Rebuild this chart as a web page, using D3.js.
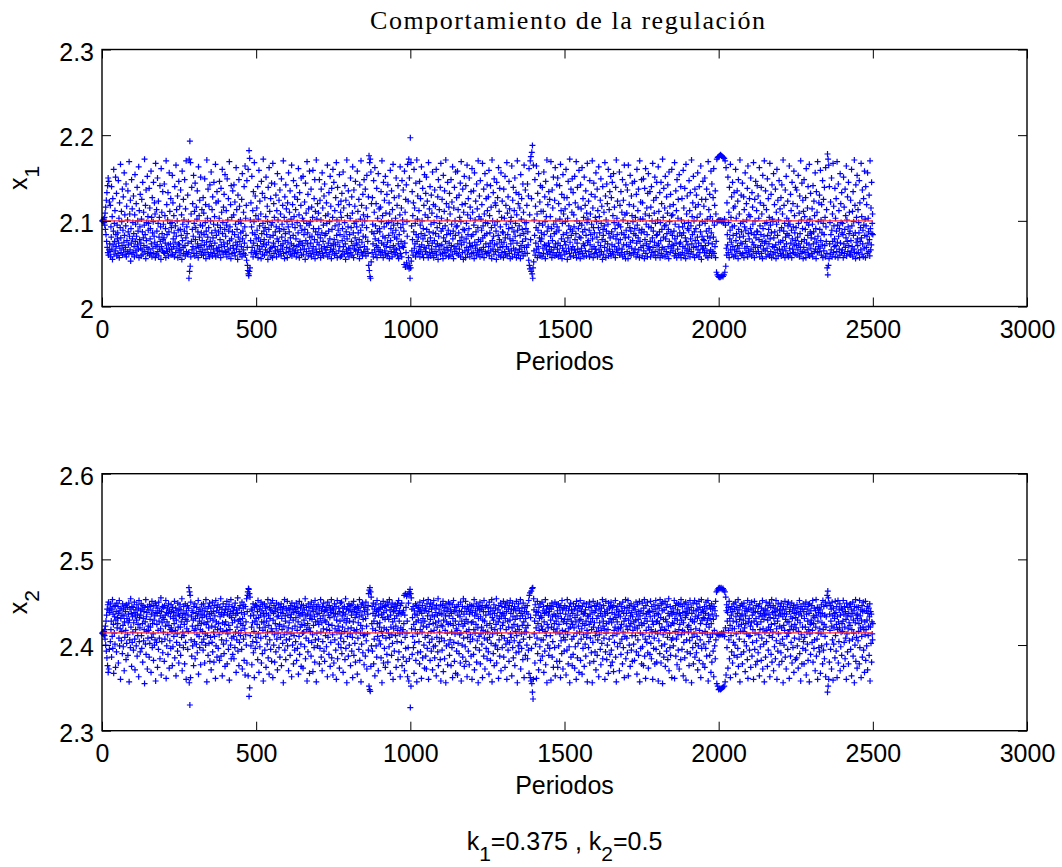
<!DOCTYPE html>
<html lang="es">
<head>
<meta charset="utf-8">
<title>Comportamiento de la regulación</title>
<script src="https://cdn.jsdelivr.net/npm/d3@7"></script>
<style>
  body { margin: 0; background: #fff; }
  svg { display: block; }
</style>
</head>
<body>
<div id="grafico"></div>
<script>
// Datos, un valor por periodo (1..2500), en milesimas:
// x1 = 2 + v/1000 , x2 = 2.3 + v/1000
const x1Mil = [
100,100,101,99,100,102,98,104,95,109,90,116,84,124,76,133,69,141,63,150,60,146,66,122,73,
64,118,58,93,81,140,67,105,55,126,72,88,160,61,97,76,112,65,151,84,70,132,59,95,79,
86,62,147,74,103,57,121,68,92,166,80,63,111,99,71,137,60,89,128,66,75,156,83,107,61,
69,94,143,58,117,77,64,101,135,87,72,62,169,82,108,66,124,53,91,74,148,61,114,79,98,
63,129,85,70,58,107,154,76,96,65,120,82,60,139,72,100,88,67,163,57,112,78,93,131,68,
74,59,102,125,66,87,145,61,80,110,71,95,172,64,84,118,56,136,77,98,69,152,62,105,89,
97,67,138,60,115,79,91,63,158,73,104,58,127,86,68,99,145,62,82,121,75,108,57,167,70,
61,113,88,72,150,64,97,123,59,81,104,67,141,76,93,55,161,70,110,85,65,134,78,96,63,
80,143,62,106,74,91,57,170,68,119,84,64,101,133,72,59,87,156,66,111,97,73,126,60,92,
67,98,153,61,121,79,70,106,86,58,140,75,94,63,165,82,113,68,100,129,57,89,73,146,65,
72,117,60,90,136,66,83,107,55,158,77,96,69,125,62,101,88,148,71,59,114,80,170,64,93,
85,61,130,74,99,63,33,172,41,193,47,168,58,108,76,139,66,90,120,70,82,153,62,97,111,
59,144,78,92,68,116,62,102,135,73,87,57,163,69,106,81,124,64,95,151,71,86,60,113,77,
94,66,127,60,109,84,72,149,63,98,119,56,88,75,171,67,103,81,137,61,92,117,70,58,142,
76,100,63,157,71,86,113,59,128,80,67,96,145,62,105,74,89,166,58,121,83,68,134,65,95,
60,123,87,69,103,146,64,78,92,57,138,72,110,65,160,85,98,61,116,75,131,70,90,154,63,
82,64,112,95,58,149,73,101,66,126,88,61,169,77,93,68,119,56,141,79,104,62,87,135,71,
68,107,142,63,84,122,59,96,75,162,67,113,90,72,55,130,81,99,148,64,117,76,61,101,86,
97,70,125,58,155,79,88,66,110,62,140,74,93,164,60,103,83,118,54,147,69,48,42,160,38,
36,182,41,173,45,101,77,121,63,93,152,69,86,112,58,134,74,99,168,65,84,129,61,106,79,
62,115,89,71,140,57,102,80,159,67,94,123,64,76,108,56,146,85,70,132,61,97,172,73,88,
78,60,127,92,66,105,151,72,84,63,117,99,55,139,75,90,162,64,111,81,68,126,59,95,144,
69,98,57,167,83,74,120,62,104,143,70,87,65,130,93,58,112,79,155,66,101,76,61,124,91,
88,136,64,108,71,59,149,81,96,67,118,73,170,62,90,104,56,128,77,85,142,63,114,69,99,
57,121,75,93,156,64,87,110,68,135,80,61,102,73,165,59,96,119,66,83,147,71,105,62,128,
92,65,113,79,58,141,70,98,125,63,86,161,72,107,57,133,76,94,66,118,150,60,89,74,103,
71,152,61,100,84,67,122,90,55,144,77,109,64,97,169,73,86,131,59,114,68,95,158,81,62,
99,74,137,58,116,82,65,104,159,70,91,61,126,78,148,56,111,87,67,171,63,102,75,120,84,
60,109,91,72,148,64,124,80,57,101,137,68,86,156,62,115,76,95,59,129,70,143,83,66,106,
85,63,121,97,69,165,58,108,74,88,133,61,99,79,152,66,117,71,56,138,90,64,104,160,73,
67,145,78,60,112,94,72,127,62,168,83,101,57,139,75,89,119,65,96,154,70,84,58,110,123,
104,59,132,77,91,64,157,70,115,82,61,98,141,73,55,124,87,66,171,79,106,62,93,135,68,
58,119,84,68,103,150,63,92,76,128,60,109,163,71,86,57,136,97,67,117,80,146,65,99,74,
93,72,158,61,111,86,66,125,78,56,142,69,102,89,170,63,118,75,95,59,131,82,107,64,148,
70,100,64,137,81,59,115,92,153,67,105,76,62,128,48,176,42,168,35,172,33,157,52,120,87,
63,127,96,73,58,147,85,110,66,162,79,94,61,120,71,138,57,88,103,69,155,77,64,114,91,
87,66,116,60,134,99,74,170,63,106,82,57,145,72,93,124,65,80,152,61,109,70,97,131,59,
75,142,62,98,83,121,56,108,69,159,77,91,64,135,100,58,113,86,166,71,95,63,127,81,67,
61,103,89,150,66,79,118,60,97,141,73,56,129,84,68,107,163,62,92,76,115,58,147,70,101,
96,136,69,88,49,158,74,110,46,125,63,142,51,99,82,166,47,123,57,172,44,150,48,33,197,
45,168,53,94,65,134,78,106,60,121,87,160,68,115,73,97,58,144,84,63,171,76,102,129,62,
81,64,112,70,146,58,95,126,66,85,163,72,100,61,138,79,91,57,118,69,154,83,107,64,132,
68,151,90,61,123,76,104,57,168,71,87,114,63,140,80,59,96,130,67,109,74,157,62,86,119,
57,98,77,136,64,117,85,70,160,60,105,92,73,128,55,148,82,66,113,97,71,139,61,167,88,
103,72,125,62,91,56,153,80,67,111,135,63,94,76,171,59,120,84,69,101,145,65,89,58,116,
74,132,59,108,85,66,148,71,96,122,61,163,79,88,56,115,70,139,64,100,83,157,68,93,127,
62,94,158,73,113,60,86,130,67,104,77,144,58,99,169,72,81,119,63,137,90,55,110,75,152,
89,65,120,57,141,79,97,69,165,61,107,84,126,66,91,150,74,58,116,103,70,134,82,62,161,
71,110,84,63,135,95,56,156,75,101,68,123,87,60,143,72,114,65,92,170,78,61,105,129,66,
58,147,76,102,66,89,119,61,167,80,94,69,137,57,108,83,155,64,98,73,126,62,85,142,112,
97,63,128,70,159,59,106,86,74,141,65,116,92,56,171,77,100,67,133,82,61,149,72,95,121,
64,118,88,55,145,73,99,127,66,83,162,60,111,78,138,69,93,58,156,75,104,63,123,87,70,
86,57,137,75,103,64,152,80,61,118,96,70,168,59,109,84,128,67,91,146,62,114,79,56,99,
73,104,65,164,92,58,124,77,139,68,87,112,61,150,82,97,66,133,57,107,74,170,89,63,120,
60,131,94,67,115,83,56,154,71,102,126,64,90,76,143,59,110,85,165,69,98,62,136,79,91,
98,69,118,62,143,87,72,129,54,161,48,107,44,170,78,175,41,126,180,38,188,33,45,165,52,
65,101,83,148,60,117,74,92,164,67,108,57,132,89,70,155,63,97,80,122,59,141,76,111,86,
79,58,139,95,68,111,62,157,84,72,128,99,56,146,71,105,66,171,88,61,119,93,74,134,64,
70,125,61,105,82,169,66,91,57,136,77,115,63,151,96,69,85,124,59,162,73,100,87,60,142,
93,67,150,74,58,120,89,63,141,102,71,166,60,112,79,131,56,97,68,154,84,108,65,127,76,
61,114,99,72,160,64,86,127,55,103,80,146,68,94,119,62,172,75,90,58,137,83,66,110,149,
88,70,133,59,107,93,66,152,78,121,63,85,169,57,100,74,139,67,116,91,61,159,81,97,64,
56,142,80,114,68,95,162,62,87,126,73,104,58,151,71,90,118,65,135,83,59,109,98,167,75,
102,77,123,64,89,58,147,72,108,84,61,131,96,67,170,79,115,57,92,144,70,86,62,128,104,
67,156,63,99,81,137,58,112,75,92,163,66,105,86,60,124,71,149,97,64,117,78,55,140,90,
83,61,110,94,69,168,76,129,57,101,88,143,65,120,73,96,160,59,85,113,67,134,80,62,152,
59,127,87,72,145,64,106,82,155,61,98,116,70,91,57,139,79,171,66,103,84,123,63,95,74,
96,68,157,60,118,78,93,134,63,86,110,67,148,58,101,124,72,84,165,61,107,80,56,142,89,
72,109,64,136,97,56,165,81,70,119,62,92,153,75,88,60,129,68,106,144,77,99,63,117,85,
63,146,91,67,104,83,58,131,74,160,95,61,112,80,137,66,89,57,170,76,102,122,69,86,148,
90,59,121,102,71,149,65,87,56,138,78,108,161,62,96,73,115,84,58,132,68,155,93,70,106,
66,134,76,58,116,92,140,63,100,80,167,69,88,124,60,109,75,151,64,97,57,127,83,145,71,
84,101,60,163,73,111,66,87,133,57,98,77,145,62,120,90,69,172,59,104,81,138,67,94,115,
58,152,79,95,64,128,85,61,109,142,70,90,56,157,76,99,117,63,131,87,68,106,160,72,83,
107,65,119,71,88,59,168,79,96,62,135,74,112,57,148,82,67,103,125,60,93,154,73,86,61,
75,140,57,101,83,126,63,93,70,159,86,115,60,97,138,68,80,56,166,76,108,65,129,91,72,
62,98,89,147,67,112,58,133,79,94,64,171,73,105,84,121,61,152,69,100,87,57,137,77,116,
91,70,130,60,104,81,156,66,119,74,58,140,95,63,108,87,164,71,55,125,82,99,67,146,78,
68,117,77,63,150,97,71,125,59,88,137,65,102,82,57,169,74,113,91,62,131,80,105,66,158,
86,59,143,73,100,64,127,81,161,62,95,118,70,135,57,108,76,40,172,99,37,174,100,35,175,
101,34,176,100,34,177,101,35,176,99,36,175,100,35,174,98,37,173,102,40,170,95,47,162,68,
60,121,84,72,151,63,98,110,57,139,79,89,166,66,104,75,128,61,93,145,70,83,115,58,133,
94,66,117,59,160,77,103,85,64,135,71,123,56,148,90,68,108,81,171,62,97,74,130,87,60,
73,144,62,99,82,128,57,113,93,68,156,76,89,63,120,101,70,138,58,164,85,65,107,79,126,
61,105,91,150,67,86,59,133,75,116,96,64,168,72,84,57,125,100,69,146,80,62,112,88,141,
87,69,129,64,103,78,162,58,94,121,71,84,139,62,108,76,56,153,91,67,118,82,170,74,97,
65,135,76,58,113,98,68,149,83,61,126,90,73,104,59,167,79,95,64,131,86,57,142,102,70,
99,61,155,80,69,119,87,63,137,72,56,110,96,160,66,83,124,59,101,75,147,67,89,114,62,
75,127,59,92,142,66,108,77,171,61,88,118,70,97,57,136,81,65,152,73,103,85,60,123,94,
58,100,83,164,68,96,62,131,74,112,89,57,145,79,67,120,93,63,158,72,106,86,61,139,77,
92,71,136,60,117,81,66,153,97,73,109,58,129,85,69,170,62,101,76,144,64,91,124,56,111,
69,148,78,105,63,90,127,57,161,74,98,66,115,83,140,61,95,72,166,59,102,87,132,68,80,
85,62,114,96,58,141,73,87,123,64,106,79,156,67,91,56,134,75,110,63,169,82,99,70,121,
64,130,90,68,159,77,101,60,119,86,72,147,57,97,125,65,84,139,71,104,58,162,93,76,113,
62,45,178,37,172,48,165,56,140,73,98,61,122,84,66,150,89,58,108,76,167,63,117,94,70,
79,138,58,103,71,126,88,64,169,75,95,57,143,82,112,67,91,60,155,74,120,98,63,133,86,
66,97,84,57,151,73,116,62,90,137,69,106,80,164,59,101,76,128,64,93,145,71,85,110,61,
88,60,124,77,65,160,94,70,111,58,134,83,99,67,171,63,118,86,56,142,75,104,62,153,79,
71,113,63,98,86,147,57,121,76,92,66,167,80,105,61,136,73,89,58,126,95,68,158,83,102,
57,140,94,69,119,82,62,156,74,103,87,64,130,78,59,170,91,66,115,72,145,85,97,108,84
];

const x2Mil = [
114,114,113,115,114,112,116,111,118,107,122,100,128,93,135,85,142,76,147,68,150,72,140,95,138,
143,104,148,118,128,86,141,110,153,96,136,124,67,145,114,133,101,146,74,129,139,92,149,120,132,
125,145,79,137,108,152,99,140,119,60,131,143,105,116,135,90,148,123,98,142,134,70,127,109,146,
139,117,83,147,102,131,144,112,88,126,136,149,57,129,106,142,97,154,121,137,75,145,103,133,115,
144,94,126,138,150,107,71,134,118,141,99,129,147,87,136,111,124,143,63,152,104,132,120,92,140,
135,148,111,96,142,125,80,146,131,105,139,118,55,144,127,101,153,89,133,116,138,72,145,108,122,
117,141,86,147,102,130,121,145,68,136,109,151,97,125,140,113,82,146,129,100,134,106,149,58,138,
146,103,124,137,74,143,117,95,150,128,108,140,84,134,119,155,65,139,104,126,145,91,132,115,144,
130,81,146,107,135,122,152,61,138,99,127,143,112,89,137,148,123,73,141,105,118,133,96,147,120,
139,116,76,144,98,131,138,110,125,151,85,134,117,143,64,129,103,140,113,93,149,121,136,79,142,
134,100,147,121,88,141,127,109,154,70,132,115,137,97,145,111,124,78,136,148,103,130,60,140,119,
128,146,95,135,116,143,167,56,162,30,158,62,150,106,133,87,140,122,99,138,129,76,145,117,104,
148,84,131,119,137,101,144,112,91,134,123,152,66,139,110,128,97,142,118,77,136,125,147,103,132,
116,140,94,148,107,126,135,79,143,113,100,153,124,133,57,139,111,127,88,145,120,102,136,149,81,
131,109,143,71,137,122,103,150,92,129,139,115,80,146,110,134,121,61,152,99,127,140,86,144,118,
147,96,125,138,112,82,144,133,119,154,87,136,106,142,64,126,116,148,101,135,90,138,124,75,141,
127,145,105,117,151,78,136,113,142,95,123,147,59,134,118,139,100,153,84,132,108,145,126,89,137,
140,110,84,144,129,97,149,115,135,68,141,106,121,137,155,93,128,114,76,143,103,130,146,111,125,
117,138,95,150,72,131,123,143,107,147,82,136,119,65,145,112,127,100,154,79,139,158,162,64,166,
165,40,160,50,156,111,134,99,142,121,77,140,126,104,148,91,135,116,62,144,128,96,147,109,131,
146,103,124,139,83,152,113,132,68,142,120,98,145,135,108,150,79,127,140,90,147,117,58,137,126,
133,148,94,121,143,110,74,137,128,145,101,115,153,85,135,123,66,144,106,131,141,95,149,119,81,
140,116,152,62,129,137,100,146,112,80,139,125,143,92,119,149,107,133,71,141,114,134,147,97,122,
124,86,144,109,138,148,76,131,118,142,102,137,56,145,122,112,153,94,134,128,83,143,106,140,115,
151,99,135,120,70,143,126,107,141,88,132,146,113,136,63,149,119,100,142,129,78,138,111,145,94,
122,142,104,132,149,82,139,117,96,144,127,66,137,110,151,89,134,121,143,101,75,147,124,136,114,
138,73,146,115,129,141,98,123,154,84,134,108,144,118,58,136,125,92,148,105,140,120,67,131,145,
116,135,87,150,103,130,143,112,69,139,123,147,97,133,80,152,106,127,141,57,145,114,136,99,128,
147,107,124,137,78,143,96,131,153,115,86,140,126,70,145,104,134,119,149,93,139,81,129,141,111,
127,144,98,118,140,63,150,109,135,124,89,146,117,132,75,142,103,138,153,85,123,143,112,65,137,
141,79,133,148,106,119,137,94,145,60,129,115,152,84,136,122,101,143,117,73,139,128,149,108,97,
113,150,90,134,121,143,68,138,104,129,145,116,83,136,154,96,126,142,56,131,110,145,119,87,140,
148,100,128,141,113,76,146,120,135,93,147,109,62,139,127,151,88,117,142,102,132,80,144,115,136,
118,138,66,145,108,126,143,95,133,153,82,140,114,123,57,147,101,135,119,149,91,130,111,144,77,
139,112,144,87,131,150,105,122,72,141,113,136,146,94,160,52,164,48,167,46,162,75,156,99,125,
145,93,119,137,149,78,128,107,142,64,134,117,147,99,139,86,152,125,110,141,70,135,143,105,121,
126,142,101,148,85,116,136,56,144,111,132,151,79,138,120,96,145,130,74,146,108,140,118,89,150,
133,80,147,114,130,98,153,109,141,67,135,121,144,88,112,149,102,127,60,139,119,145,93,131,140,
147,111,122,74,143,134,104,148,117,83,137,152,92,128,140,113,63,146,120,136,103,149,76,138,115,
118,86,140,125,158,70,135,109,160,96,144,81,157,114,128,63,159,97,149,58,162,84,160,165,27,
160,52,155,119,142,89,132,110,145,97,124,67,140,103,136,118,148,82,127,146,57,135,113,91,143,
129,144,104,139,78,150,118,92,141,126,61,137,115,146,85,131,122,152,100,140,73,128,109,143,87,
140,72,121,148,96,134,111,153,60,139,124,103,145,82,130,149,116,93,142,107,135,71,147,125,98,
152,117,133,85,143,99,126,138,64,146,109,121,135,92,154,76,128,142,104,115,137,83,147,58,123,
108,136,94,146,122,151,69,129,140,105,84,144,117,134,56,148,99,127,139,114,77,143,124,150,101,
134,88,148,106,125,141,76,137,115,97,147,62,131,123,152,103,139,81,144,113,128,67,140,119,93,
145,117,65,135,102,147,124,90,140,112,133,79,150,114,58,139,128,100,145,86,122,154,108,136,75,
125,143,98,151,81,130,116,139,63,145,109,127,93,142,118,77,136,147,104,112,140,87,126,146,60,
138,107,127,145,89,118,153,71,134,114,140,97,124,148,80,136,105,143,120,56,131,145,110,94,141,
150,78,133,113,142,121,101,146,62,129,117,139,87,152,108,128,72,144,115,135,96,146,123,84,106,
115,144,92,139,66,150,109,125,136,82,143,102,120,153,57,132,113,140,90,129,147,76,137,118,99,
143,100,124,154,79,134,114,95,141,127,61,146,106,131,87,138,119,149,70,133,111,145,97,123,137,
126,151,86,135,108,144,74,131,148,101,118,139,60,150,105,128,94,142,121,81,146,103,129,152,113,
137,109,142,64,120,149,97,133,85,141,124,105,145,76,130,116,140,91,151,111,134,56,122,143,99,
148,92,118,140,103,131,153,72,137,113,96,143,123,134,83,149,107,127,62,139,115,144,88,131,120,
115,139,100,146,84,123,136,94,152,67,158,109,161,62,132,58,163,96,55,166,45,167,37,60,154,
141,113,128,79,147,101,135,120,61,139,108,151,90,125,138,71,144,117,131,98,148,82,134,106,122,
132,150,87,118,140,106,145,68,127,137,93,116,153,77,138,111,142,56,124,146,100,120,135,88,143,
139,96,146,111,129,59,142,121,149,86,133,104,145,74,118,136,125,97,150,64,134,115,128,147,81,
119,140,74,133,148,99,124,144,81,113,137,62,146,105,131,90,152,117,141,72,127,109,143,93,130,
146,106,116,136,65,143,125,94,153,112,130,78,140,119,98,145,56,134,121,149,86,128,141,107,76,
124,137,89,148,110,120,142,73,132,98,145,127,60,151,114,135,85,140,102,122,146,68,129,115,143,
152,82,130,107,139,119,66,145,125,96,136,112,149,75,137,123,101,141,87,128,148,109,117,57,134,
114,133,97,144,124,150,79,136,108,127,145,91,118,140,56,131,103,151,121,81,138,126,146,92,111,
140,71,145,116,131,88,149,106,134,120,63,142,112,126,147,95,137,77,117,143,102,133,153,84,122,
128,146,108,119,139,60,135,92,151,114,125,83,141,100,137,118,67,149,127,107,143,89,131,145,76,
150,94,126,138,80,144,111,130,69,146,117,103,136,121,152,86,132,57,141,113,127,98,145,119,135,
119,139,70,148,102,133,120,89,145,124,107,140,78,150,115,97,137,128,62,143,110,131,153,84,122,
137,108,144,91,118,152,64,129,140,100,146,122,75,134,125,148,94,138,111,81,133,117,143,101,127,
145,82,121,141,111,129,150,92,136,66,119,147,106,130,88,139,123,151,57,134,114,96,140,126,78,
123,149,98,112,137,76,143,125,153,87,131,107,61,146,117,136,103,128,150,91,139,73,121,138,110,
140,89,133,151,102,118,84,145,115,128,60,139,124,96,147,108,134,78,142,116,152,95,127,80,137,
128,113,146,58,136,105,143,125,90,153,117,132,79,148,99,121,140,55,149,112,130,86,141,118,101,
151,75,130,117,144,93,127,147,109,83,137,122,154,70,134,114,97,145,88,123,139,106,62,136,126,
108,143,99,138,125,152,61,131,116,146,87,136,107,149,77,129,141,112,94,148,118,72,137,124,147,
134,83,153,112,129,95,145,117,138,64,126,103,148,115,85,139,132,150,59,135,106,143,92,121,137,
147,115,123,76,141,105,152,90,130,118,144,56,137,109,128,97,149,78,140,113,127,152,86,133,102,
119,140,91,148,110,131,71,142,99,135,151,82,117,144,106,125,62,138,153,96,129,114,141,78,132,
139,101,131,145,74,116,137,96,150,124,87,143,112,129,152,58,135,104,121,146,88,131,109,142,68,
125,148,80,136,113,143,93,130,63,145,117,99,140,84,151,106,134,162,55,113,164,52,112,166,48,
111,167,49,113,166,48,112,167,49,114,165,50,112,166,51,115,164,52,110,162,57,120,156,65,140,
147,97,128,138,73,144,117,106,151,84,131,123,62,142,111,135,92,145,119,79,139,128,103,148,88,
119,142,100,150,66,133,113,127,144,86,137,96,153,75,122,141,107,130,57,146,116,134,89,124,148,
136,78,145,116,129,92,149,104,120,140,69,134,125,143,99,113,139,83,152,61,127,142,110,131,94,
147,111,122,74,141,126,150,87,135,103,118,143,60,138,128,151,95,114,139,77,131,146,105,124,81,
124,139,91,145,112,133,64,148,118,98,137,127,82,143,108,134,152,72,119,140,101,130,57,136,115,
142,86,135,150,104,117,140,75,129,146,94,121,136,111,149,63,132,118,144,89,124,153,80,109,138,
115,146,70,131,139,98,125,143,84,135,152,105,119,60,141,128,93,148,113,134,77,140,122,102,145,
136,91,149,120,81,141,107,133,56,145,123,100,137,117,151,86,130,142,72,136,110,127,147,95,114,
150,114,127,61,139,118,144,87,133,103,122,149,79,131,141,97,118,146,68,137,108,124,143,83,132,
120,138,85,147,99,129,143,73,116,136,107,152,90,126,139,58,145,112,134,78,142,121,96,148,104,
139,78,131,109,145,121,94,150,65,136,115,142,101,128,82,147,118,137,57,148,113,124,89,140,129,
126,146,103,117,152,80,134,125,96,143,106,132,70,140,121,153,87,135,107,144,60,128,114,138,97,
143,92,119,141,67,133,113,147,99,126,137,78,152,118,94,145,124,84,135,110,150,63,121,133,101,
146,158,45,163,52,155,60,149,80,136,117,146,95,128,142,72,122,150,106,134,59,143,101,120,137,
131,85,151,111,138,93,124,145,62,133,118,152,79,127,104,141,120,148,70,135,98,115,143,88,125,
141,116,128,152,75,136,103,145,121,84,139,108,130,60,149,113,134,92,144,119,78,137,126,105,147,
123,148,95,133,142,64,118,137,107,150,87,129,114,140,56,145,100,126,153,81,135,109,144,73,131,
136,105,144,116,125,78,152,97,134,120,141,62,129,110,146,86,139,121,150,94,118,140,68,127,112,
151,82,118,140,99,129,145,71,137,111,122,143,88,133,148,58,121,139,102,136,80,127,113,106,125
];

// Valores de equilibrio (linea roja) y su tramo en periodos
const x1Ref = 2.1;
const x2Ref = 2.4142;
const tramoRef = [0, 2500];

// Ticks
const ticksPeriodos = [0, 500, 1000, 1500, 2000, 2500, 3000];
const ticksX1 = [2, 2.1, 2.2, 2.3];
const ticksX2 = [2.3, 2.4, 2.5, 2.6];

// Textos
const titulo = "Comportamiento de la regulación";
const etiquetaX = "Periodos";
const k1 = "0.375";
const k2 = "0.5";

const width = 1062;
const height = 867;
const marginLeft = 102;
const plotRight = 1027;
const altoPanel = 257;
const tick = 9;
const fuente = "'Liberation Sans', Arial, Helvetica, sans-serif";

const svg = d3.select("#grafico")
  .append("svg")
  .attr("width", width)
  .attr("height", height)
  .style("background", "#fff");

const xScale = d3.scaleLinear()
  .domain([0, 3000])
  .range([marginLeft, plotRight]);

const graficar = (top, valores, ref, ticksY, sub) => {

  const yScale = d3.scaleLinear()
    .domain([ticksY[0], ticksY[ticksY.length - 1]])
    .range([top + altoPanel, top]);

  const g = svg.append("g");

  // puntos '+'
  g.append("g")
    .selectAll("path")
    .data(valores)
    .enter()
    .append("path")
    .attr("d", "M-3,0H3M0,-3V3")
    .attr("transform", (d, i) => `translate(${xScale(i + 1)},${yScale(d)})`)
    .attr("fill", "none")
    .attr("stroke", "#0000ff")
    .attr("stroke-width", 1.2);

  // referencia
  g.append("line")
    .attr("x1", xScale(tramoRef[0]))
    .attr("x2", xScale(tramoRef[1]))
    .attr("y1", yScale(ref))
    .attr("y2", yScale(ref))
    .attr("stroke", "#ff2a2a")
    .attr("stroke-width", 1.3);

  // ejes (ticks hacia adentro, como en MATLAB)
  const ejeAbajo = g.append("g")
    .attr("transform", `translate(0,${top + altoPanel})`)
    .call(d3.axisBottom(xScale).tickValues(ticksPeriodos).tickSize(-tick).tickPadding(14).tickFormat(d3.format("d")));

  const ejeIzq = g.append("g")
    .attr("transform", `translate(${marginLeft},0)`)
    .call(d3.axisLeft(yScale).tickValues(ticksY).tickSize(-tick).tickPadding(8).tickFormat(d => String(d)));

  const ejeArriba = g.append("g")
    .attr("transform", `translate(0,${top})`)
    .call(d3.axisTop(xScale).tickValues(ticksPeriodos).tickSize(-tick).tickFormat(""));

  const ejeDer = g.append("g")
    .attr("transform", `translate(${plotRight},0)`)
    .call(d3.axisRight(yScale).tickValues(ticksY).tickSize(-tick).tickFormat(""));

  [ejeAbajo, ejeIzq, ejeArriba, ejeDer].forEach(e => {
    e.select(".domain").remove();
    e.selectAll("line").attr("stroke", "#000").attr("stroke-width", 1);
    e.selectAll("text")
      .attr("fill", "#000")
      .style("font-family", fuente)
      .style("font-size", "25px");
  });
  ejeIzq.selectAll("text").attr("dy", "0.42em");

  // caja
  g.append("rect")
    .attr("x", marginLeft)
    .attr("y", top)
    .attr("width", plotRight - marginLeft)
    .attr("height", altoPanel)
    .attr("fill", "none")
    .attr("stroke", "#000")
    .attr("stroke-width", 1.4);

  // etiqueta x
  g.append("text")
    .attr("x", (marginLeft + plotRight) / 2)
    .attr("y", top + altoPanel + 63.5)
    .attr("text-anchor", "middle")
    .style("font-family", fuente)
    .style("font-size", "25px")
    .text(etiquetaX);

  // etiqueta y con subindice
  const ly = g.append("text")
    .attr("transform", `translate(27,${top + altoPanel / 2}) rotate(-90)`)
    .attr("text-anchor", "middle")
    .style("font-family", fuente)
    .style("font-size", "25px");
  ly.append("tspan").text("x");
  ly.append("tspan").attr("dy", 12).style("font-size", "21px").text(sub);
};

graficar(49.5, x1Mil.map(v => 2 + v / 1000), x1Ref, ticksX1, "1");
graficar(473.7, x2Mil.map(v => 2.3 + v / 1000), x2Ref, ticksX2, "2");

// titulo
svg.append("text")
  .attr("x", 567.5)
  .attr("y", 29)
  .attr("text-anchor", "middle")
  .attr("textLength", 395)
  .attr("lengthAdjust", "spacing")
  .style("font-family", "'Liberation Serif', 'DejaVu Serif', serif")
  .style("font-size", "26px")
  .text(titulo);

// parametros
const pie = svg.append("text")
  .attr("x", 564.5)
  .attr("y", 850)
  .attr("text-anchor", "middle")
  .style("font-family", fuente)
  .style("font-size", "25px");
pie.append("tspan").text("k");
pie.append("tspan").attr("dy", 11).style("font-size", "21px").text("1");
pie.append("tspan").attr("dy", -11).text("=" + k1 + " , k");
pie.append("tspan").attr("dy", 11).style("font-size", "21px").text("2");
pie.append("tspan").attr("dy", -11).text("=" + k2);
</script>
</body>
</html>
